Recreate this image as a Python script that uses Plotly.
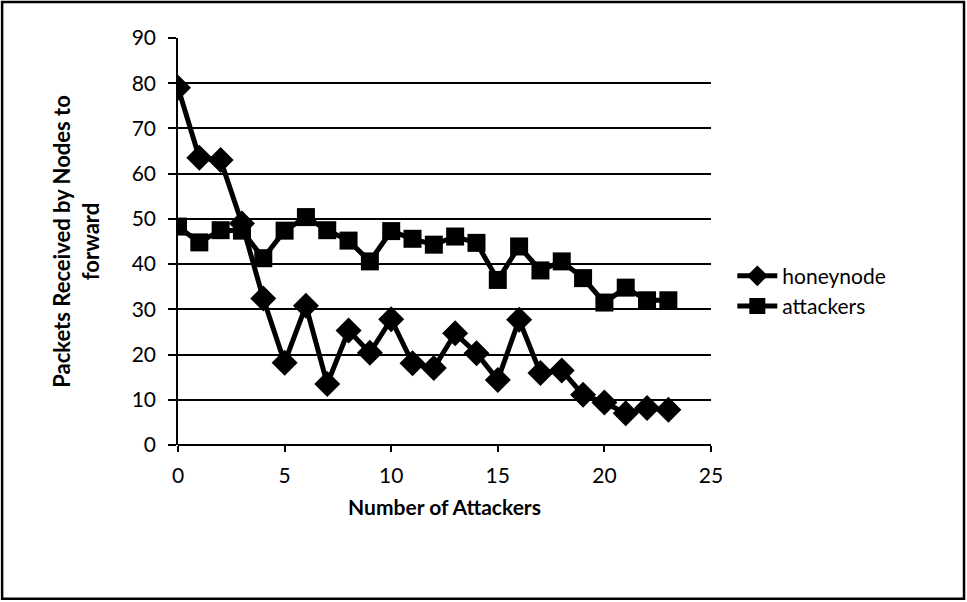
import plotly.graph_objects as go

x_vals = list(range(24))
honeynode = [79, 63.5, 63, 49, 32.4, 18.2, 30.8, 13.5, 25.3, 20.4, 27.8, 18.1, 17.0, 24.7, 20.3, 14.4, 27.7, 15.9, 16.5, 11.1, 9.4, 7.0, 8.2, 7.8]
attackers = [48.3, 44.8, 47.5, 47.4, 41.3, 47.4, 50.4, 47.5, 45.2, 40.6, 47.3, 45.6, 44.3, 46.1, 44.7, 36.5, 43.9, 38.6, 40.6, 36.9, 31.5, 34.8, 32.0, 32.0]
x_ticks = [0, 5, 10, 15, 20, 25]
y_ticks = [0, 10, 20, 30, 40, 50, 60, 70, 80, 90]

FONT = "Lato, 'Open Sans', sans-serif"

fig = go.Figure()
fig.add_trace(go.Scatter(x=x_vals, y=honeynode, mode="lines+markers", name="honeynode",
                         line=dict(color="black", width=5),
                         marker=dict(symbol="diamond", size=20, color="black")))
fig.add_trace(go.Scatter(x=x_vals, y=attackers, mode="lines+markers", name="attackers",
                         line=dict(color="black", width=5),
                         marker=dict(symbol="square", size=18, color="black")))

fig.update_layout(
    width=967, height=602,
    margin=dict(l=178, r=256, t=38, b=157),
    paper_bgcolor="white", plot_bgcolor="white",
    font=dict(family=FONT, color="black", size=20),
    showlegend=True,
    legend=dict(x=1.04, y=0.378, xanchor="left", yanchor="middle",
                font=dict(size=21, family=FONT), bgcolor="rgba(0,0,0,0)",
                itemwidth=40, tracegroupgap=2),
    xaxis=dict(range=[0, 25], tickvals=x_ticks, showgrid=False, zeroline=False,
               showline=False, ticks="outside", ticklen=6, tickwidth=1.5, tickcolor="black",
               tickfont=dict(size=21, family=FONT), ticklabelstandoff=6,
               title=dict(text="<b>Number of Attackers</b>", font=dict(size=21, family=FONT), standoff=14)),
    yaxis=dict(range=[0, 90], tickvals=y_ticks, showgrid=True, gridcolor="black", gridwidth=2,
               zeroline=False, showline=True, linecolor="black", linewidth=1.5,
               ticks="outside", ticklen=8, tickwidth=2, tickcolor="black",
               tickfont=dict(size=21, family=FONT), ticklabelstandoff=8,
               title=dict(text="<b>Packets Received by Nodes to<br>forward</b>", font=dict(size=22, family=FONT), standoff=26)),
    shapes=[
        dict(type="line", xref="paper", yref="paper", x0=0, x1=1, y0=0, y1=0,
             line=dict(color="black", width=2), layer="above"),
        dict(type="rect", xref="paper", yref="paper", x0=-0.330, x1=1.4747, y0=-0.378, y1=1.0885,
             line=dict(color="black", width=2.5), fillcolor="rgba(0,0,0,0)"),
    ],
)

fig.write_html("out.html")
